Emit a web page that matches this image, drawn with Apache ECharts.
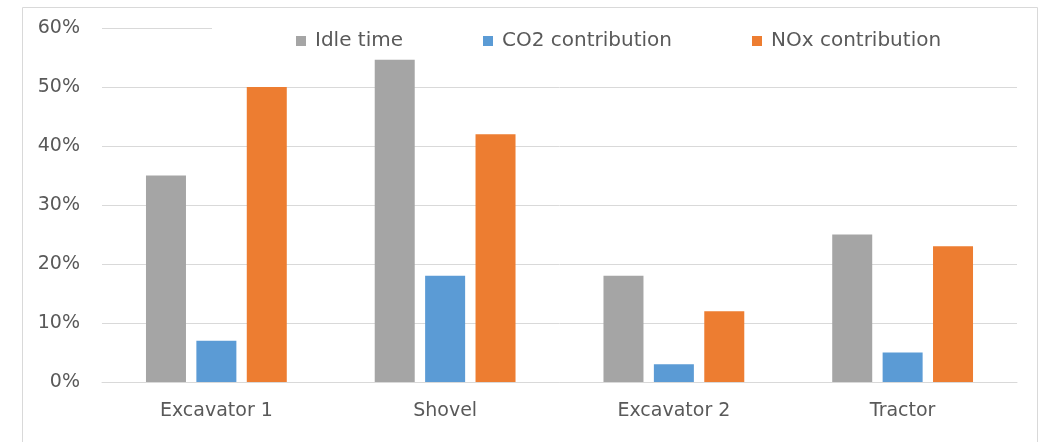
<!DOCTYPE html>
<html>
<head>
<meta charset="utf-8">
<script src="https://cdn.jsdelivr.net/npm/echarts@6/dist/echarts.min.js"></script>
<style>
html,body{margin:0;padding:0;background:#fff;}
#chart{width:1043px;height:442px;}
</style>
</head>
<body>
<div id="chart"></div>
<script>
var categories = ['Excavator 1', 'Shovel', 'Excavator 2', 'Tractor'];
var idleTime = [35, 54.6, 18, 25];
var co2Contribution = [7, 18, 3, 5];
var noxContribution = [50, 42, 12, 23];
var seriesNames = ['Idle time', 'CO2 contribution', 'NOx contribution'];

var chart = echarts.init(document.getElementById('chart'));
var font = 'DejaVu Sans';
var textColor = '#595959';
chart.setOption({
  animation: false,
  color: ['#A5A5A5', '#5B9BD5', '#ED7D31'],
  graphic: [{
    type: 'rect',
    shape: {x: 22.5, y: 7.5, width: 1015, height: 470},
    style: {fill: 'none', stroke: '#d9d9d9', lineWidth: 1},
    silent: true
  }],
  legend: {
    left: 212,
    top: 23,
    padding: [8, 95, 8, 84],
    backgroundColor: '#ffffff',
    itemWidth: 10,
    itemHeight: 10,
    itemGap: 80,
    icon: 'rect',
    textStyle: {fontFamily: font, fontSize: 20, color: textColor, padding: [0, 0, 0, 4]},
    data: seriesNames
  },
  grid: {left: 102, right: 26, top: 28, bottom: 60, containLabel: false},
  xAxis: {
    type: 'category',
    data: categories,
    axisLine: {lineStyle: {color: '#d9d9d9', width: 1}},
    axisTick: {show: false},
    axisLabel: {fontFamily: font, fontSize: 19, color: textColor, margin: 20}
  },
  yAxis: {
    type: 'value',
    min: 0,
    max: 60,
    interval: 10,
    axisLine: {show: false},
    axisTick: {show: false},
    splitLine: {lineStyle: {color: '#d9d9d9', width: 1}},
    axisLabel: {fontFamily: font, fontSize: 19, color: textColor, margin: 22, formatter: '{value}%'}
  },
  series: [
    {name: seriesNames[0], type: 'bar', data: idleTime, barWidth: 40, barGap: '26%', barCategoryGap: '39%'},
    {name: seriesNames[1], type: 'bar', data: co2Contribution, barWidth: 40, barGap: '26%'},
    {name: seriesNames[2], type: 'bar', data: noxContribution, barWidth: 40, barGap: '26%'}
  ]
});
</script>
</body>
</html>
